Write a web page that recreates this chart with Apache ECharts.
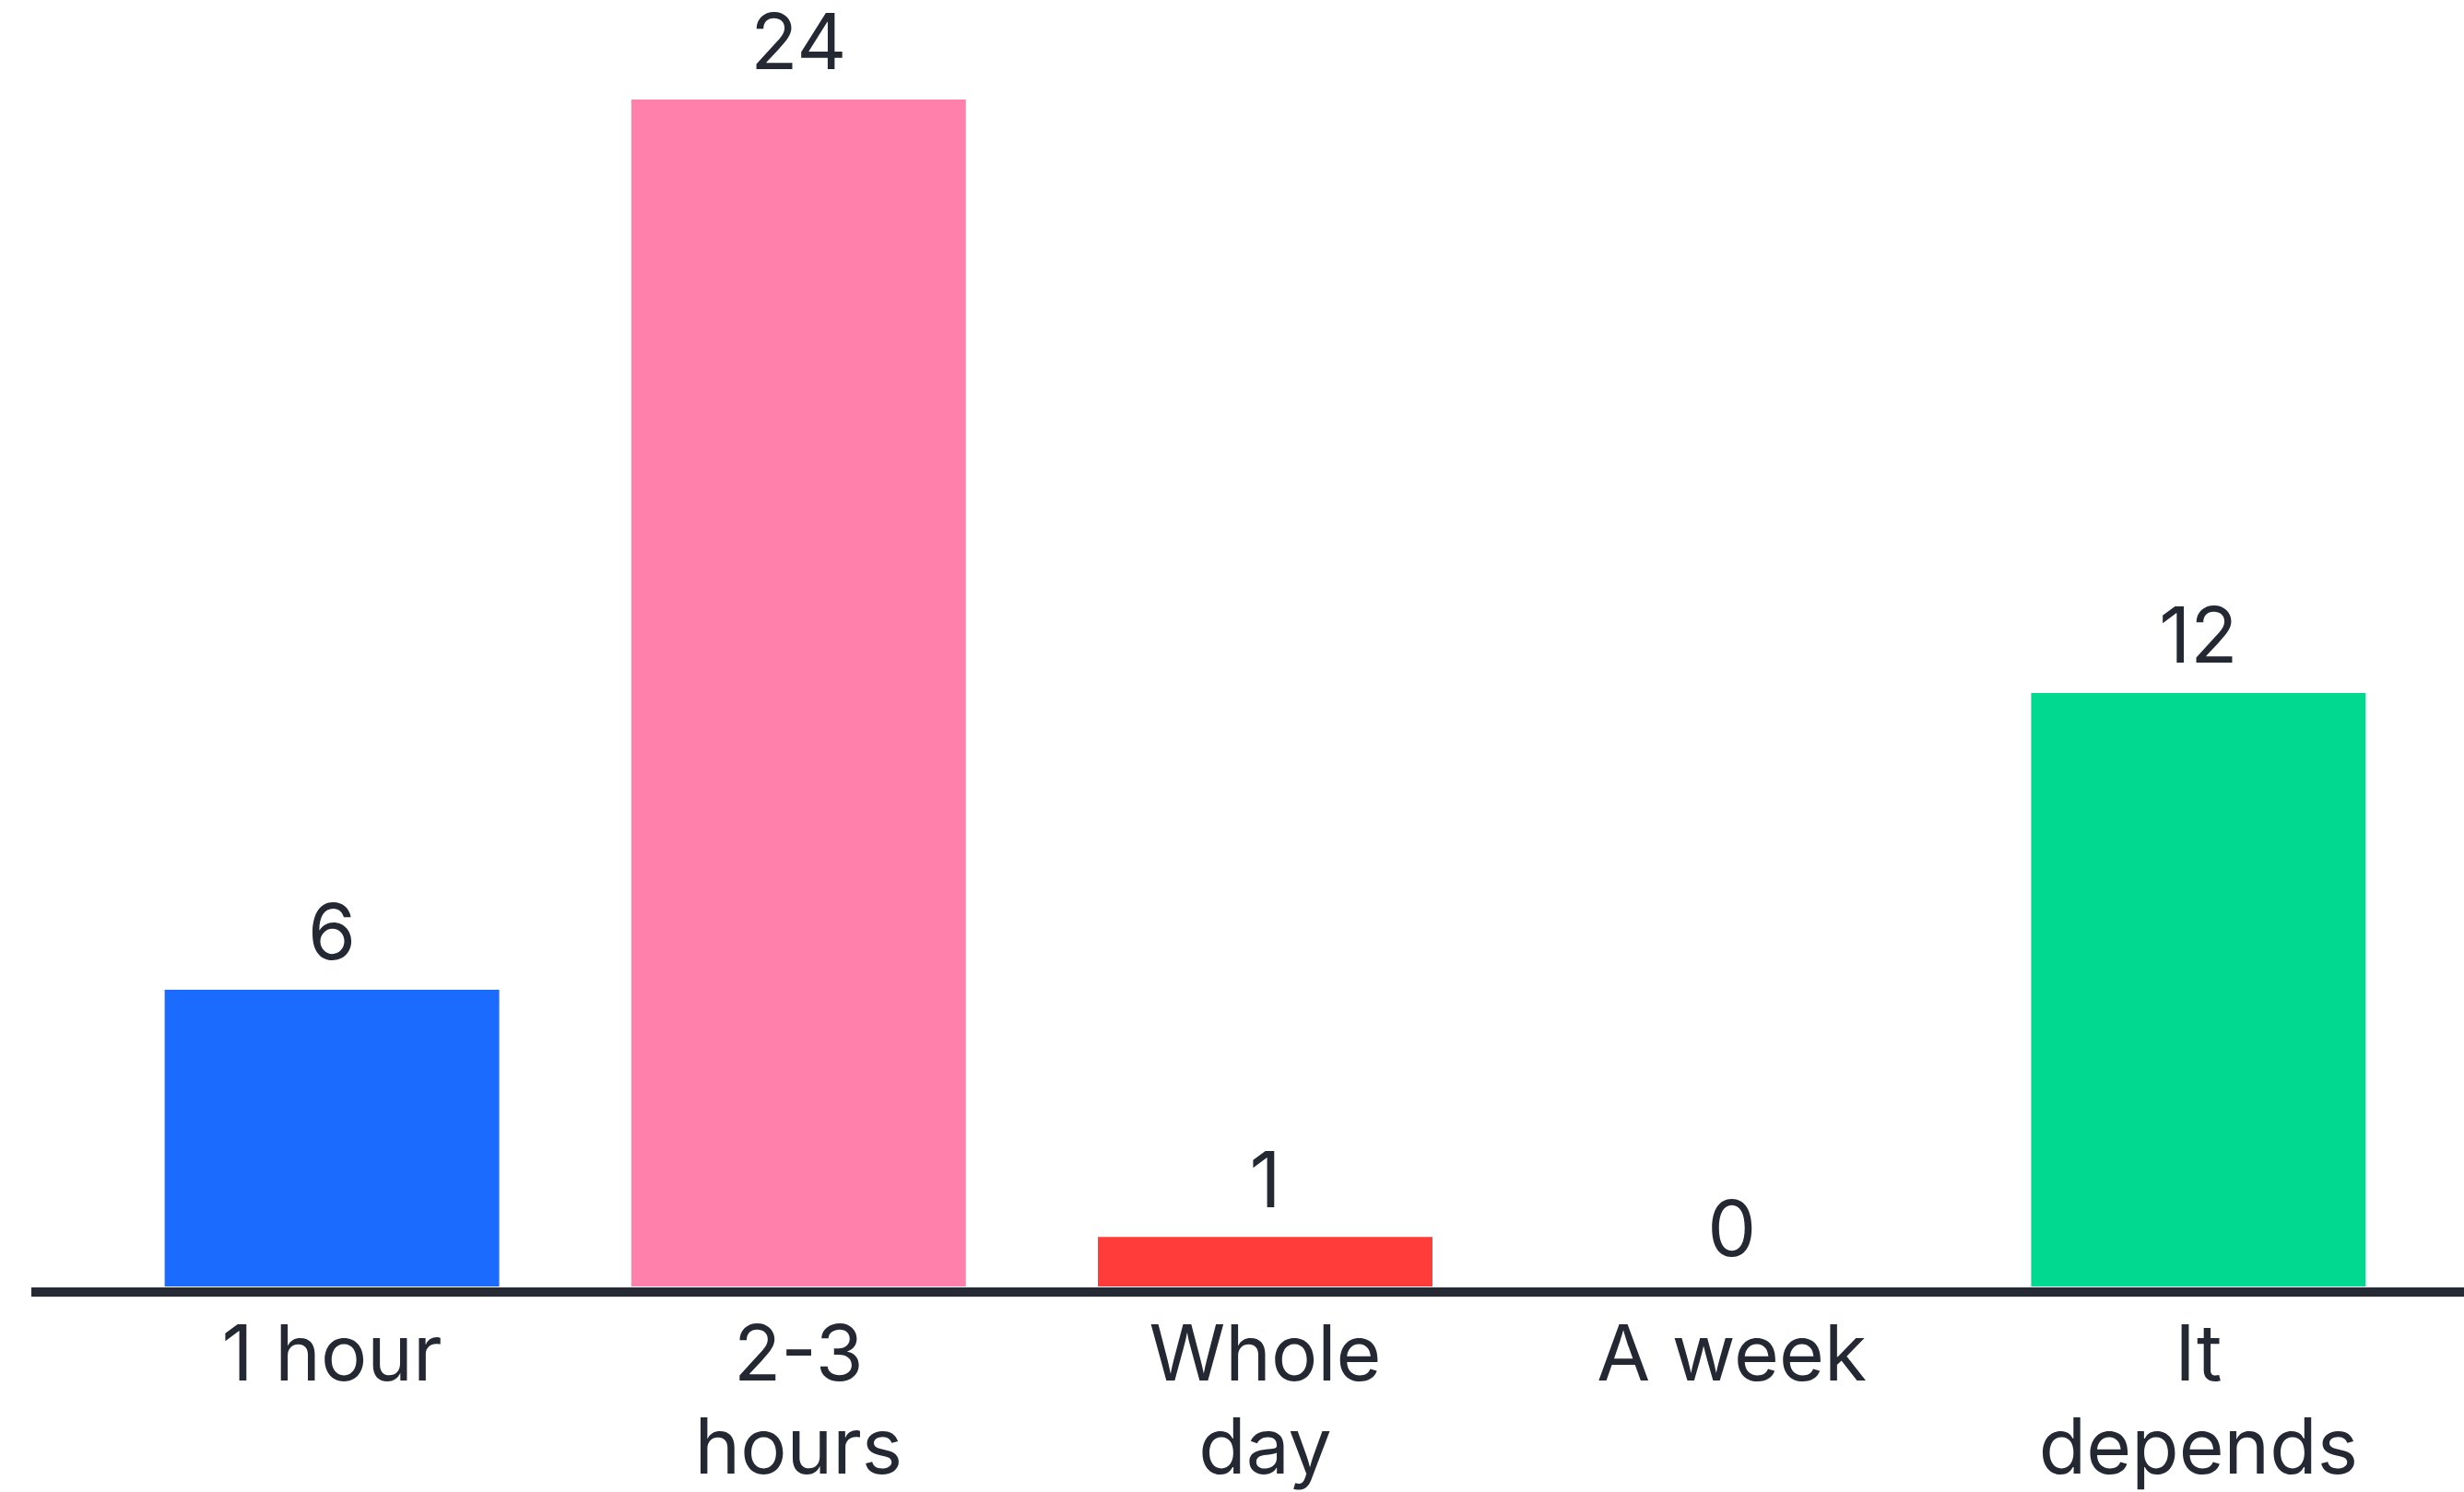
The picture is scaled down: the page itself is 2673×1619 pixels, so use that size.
<!DOCTYPE html>
<html>
<head>
<meta charset="utf-8">
<script src="https://cdn.jsdelivr.net/npm/echarts@6/dist/echarts.min.js"></script>
<style>
html,body{margin:0;padding:0;background:#fff;}
#chart{width:2673px;height:1619px;}
</style>
</head>
<body>
<div id="chart"></div>
<script>
const categories = ["1 hour", "2-3\nhours", "Whole\nday", "A week", "It\ndepends"];
const values = [6, 24, 1, 0, 12];
const barColors = ["#1C6BFF", "#FF80AA", "#FF3C3A", "#FF3C3A", "#00D98F"];

const textColor = "#232833";
const fontFamily = "Inter";

const chart = echarts.init(document.getElementById('chart'), null, {renderer: 'canvas'});
const option = {
  animation: false,
  backgroundColor: '#ffffff',
  grid: {left: 107, right: 35, top: 108, bottom: 223, containLabel: false, outerBoundsMode: 'none'},
  xAxis: {
    type: 'category',
    data: categories,
    axisLine: {show: false},
    axisTick: {show: false},
    axisLabel: {
      color: textColor, fontSize: 84, fontFamily: fontFamily,
      lineHeight: 101, margin: 26, interval: 0
    }
  },
  yAxis: {
    type: 'value', min: 0, max: 24,
    show: false,
    splitLine: {show: false}
  },
  series: [{
    type: 'bar',
    data: values.map((v, i) => ({value: v, itemStyle: {color: barColors[i]}})),
    barCategoryGap: '28.3%',
    label: {
      show: true, position: 'top', distance: 16,
      color: textColor, fontSize: 84, fontFamily: fontFamily
    }
  }]
};
chart.setOption(option);
const y0 = chart.convertToPixel({yAxisIndex: 0}, 0);
chart.setOption({
  graphic: [{
    type: 'rect', z: 10,
    shape: {x: 34, y: y0 + 1, width: 2673 - 34, height: 10},
    style: {fill: '#252a34'}
  }]
});
</script>
</body>
</html>
